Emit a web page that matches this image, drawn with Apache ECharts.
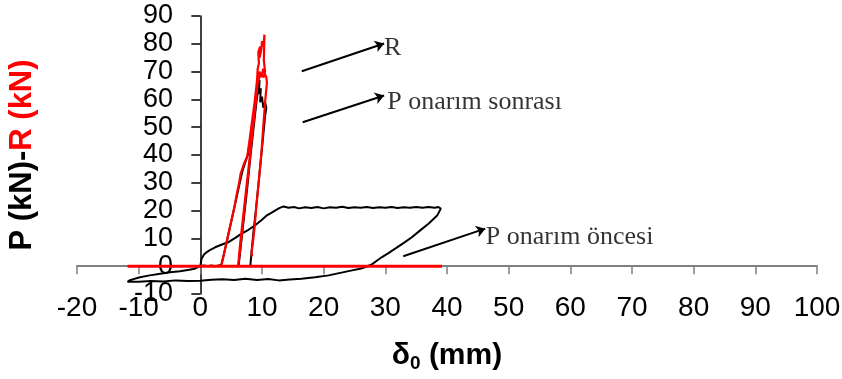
<!DOCTYPE html>
<html>
<head>
<meta charset="utf-8">
<script src="https://cdn.jsdelivr.net/npm/echarts@6/dist/echarts.min.js"></script>
<style>
  html, body { margin: 0; padding: 0; background: #fff; }
  #chart { width: 842px; height: 379px; }
</style>
</head>
<body>
<div id="chart"></div>
<script>
// x ticks / y ticks
var xMin = -20, xMax = 100, xStep = 10;
var yMin = -10, yMax = 90, yStep = 10;

// P onarim oncesi (before repair) - black loop
var pBefore = [
  [0, 0], [0.2, 2.7], [0.6, 4.2], [1.0, 5.0], [1.7, 6.0], [2.4, 6.8], [3.4, 7.7], [4.5, 8.6],
  [5.6, 10.1], [6.7, 11.7], [7.8, 13.1], [8.9, 14.7], [9.9, 16.5], [10.8, 18.3], [11.5, 19.2],
  [12.1, 20.0], [12.8, 20.9], [13.5, 21.5], [14.3, 21.0], [15.2, 21.3], [16.0, 20.8], [17.0, 21.2],
  [18.0, 20.9], [19.0, 21.3], [20.0, 20.8], [21.0, 21.2], [22.0, 21.0], [23.0, 21.4], [24.0, 20.9],
  [25.0, 21.2], [26.0, 21.0], [27.0, 21.3], [28.0, 20.9], [29.0, 21.2], [30.0, 21.0], [31.0, 21.3],
  [32.0, 20.9], [33.0, 21.2], [34.0, 21.0], [35.0, 21.3], [36.0, 21.0], [37.0, 21.3], [38.0, 21.0],
  [38.6, 21.3], [39.0, 20.7], [38.4, 18.2], [37.0, 15.3], [35.6, 12.8], [34.3, 10.4], [33.0, 8.4],
  [31.6, 6.3], [30.5, 4.7], [29.4, 3.2], [28.5, 1.8], [27.8, 0.6], [26.8, -0.3], [25.9, -0.9],
  [24.6, -1.5], [22.7, -2.4], [20.8, -3.3], [18.6, -4.0], [16.4, -4.5], [14.5, -4.8], [12.7, -5.1],
  [11.0, -4.6], [9.2, -5.0], [7.3, -4.5], [5.5, -5.0], [3.6, -4.7], [1.8, -4.9], [0, -5.2],
  [-2.0, -5.3], [-4.0, -5.1], [-6.0, -5.5], [-8.0, -5.3], [-10.0, -5.6], [-11.8, -5.6],
  [-11.4, -5.0], [-9.8, -4.0], [-8.2, -3.3], [-6.5, -2.7], [-4.9, -2.2], [-3.3, -1.8],
  [-1.8, -1.3], [-0.9, -0.9], [0, 0]
];

// P onarim sonrasi (after repair) - black
var pAfter = [
  [0, 0], [0.6, 0.3], [1.2, 0], [1.8, 0.3], [2.4, 0], [3.0, 0.3], [3.4, 0.5], [4.0, 6],
  [4.6, 12], [5.2, 18], [5.8, 24], [6.3, 29], [6.8, 34], [7.3, 37.5], [7.7, 40], [8.1, 46],
  [8.5, 52], [8.9, 58], [9.2, 62], [9.4, 64],
  [9.1, 59], [8.6, 49], [8.1, 39], [7.6, 29], [7.1, 19], [6.6, 9], [6.3, 3], [6.2, 0],
  [6.4, 4], [7.0, 16], [7.6, 28], [8.1, 39], [8.6, 49], [9.1, 59], [9.4, 64], [9.6, 67],
  [9.5, 62], [9.8, 64], [9.7, 59], [10.0, 61], [10.2, 57], [10.5, 59], [10.7, 57],
  [10.5, 54], [10.2, 47], [9.8, 38], [9.4, 29], [9.0, 20], [8.6, 12], [8.3, 5], [8.1, 0], [8.4, 0.2]
];

// R onarim oncesi - red, zero
var rBefore = [
  [-11.8, 0], [0, 0], [10, 0], [20, 0], [30, 0], [39.2, 0]
];

// R onarim sonrasi - red
var rAfter = [
  [3.3, 0], [3.5, 1], [4.0, 6], [4.6, 12], [5.1, 17], [5.5, 21], [5.7, 23.5], [6.0, 27],
  [6.3, 30], [6.5, 33], [6.8, 35], [7.1, 37], [7.4, 38.5], [7.6, 39.5], [7.9, 44], [8.2, 49],
  [8.5, 54], [8.8, 59], [9.0, 63], [9.2, 67], [9.3, 71], [9.5, 73], [9.4, 77], [9.7, 79],
  [9.6, 75], [9.9, 78], [10.0, 81], [10.2, 79], [10.4, 83.3], [10.3, 74], [10.5, 70], [10.3, 68],
  [9.9, 69], [9.6, 68], [9.3, 66],
  [8.9, 58], [8.4, 47], [7.9, 37], [7.4, 27], [6.9, 17], [6.5, 9], [6.2, 2], [6.1, 0],
  [6.3, 3], [6.8, 13], [7.4, 26], [8.0, 38], [8.6, 51], [9.1, 61], [9.3, 66], [9.6, 70],
  [9.9, 68], [10.2, 71], [10.5, 69], [10.7, 68], [10.8, 66],
  [10.5, 59], [10.2, 50], [9.9, 40.5], [9.5, 31], [9.1, 22], [8.8, 14], [8.5, 8], [8.3, 5],
  [8.5, 4.5], [8.4, 3.5]
];

// annotation arrows (start, tip) and texts
var arrowFrom = [[16.45, 70.1], [16.6, 51.8], [32.9, 3.6]];
var arrowTo = [[29.8, 80.1], [29.8, 61.4], [46.2, 13.5]];
var noteText = ['R', 'P onarım sonrası', 'P onarım öncesi'];
var notePos = [[29.8, 78.3], [30.3, 59.0], [46.3, 10.6]];

var chart = echarts.init(document.getElementById('chart'));

var arrows = [];
for (var i = 0; i < arrowFrom.length; i++) {
  arrows.push([{ coord: arrowFrom[i] }, { coord: arrowTo[i] }]);
}

function lineSeries(name, data, color, width) {
  return {
    name: name,
    type: 'line',
    data: data,
    showSymbol: false,
    symbol: 'none',
    smooth: false,
    clip: false,
    lineStyle: { color: color, width: width },
    silent: true
  };
}

var option = {
  animation: false,
  backgroundColor: '#fff',
  grid: { left: 77, right: 25, top: 16, bottom: 85, containLabel: false, outerBoundsMode: 'none' },
  xAxis: {
    type: 'value',
    min: xMin, max: xMax, interval: xStep,
    axisLine: { onZero: true, lineStyle: { color: '#808080', width: 2 } },
    axisTick: { show: true, length: 8, lineStyle: { color: '#808080', width: 1.5 } },
    axisLabel: { margin: 0, fontSize: 28, color: '#000', fontFamily: 'Liberation Sans', showMinLabel: true, showMaxLabel: true },
    splitLine: { show: false },
    name: '{a|δ}{s|0}{a| (mm)}',
    nameLocation: 'middle',
    nameGap: 45,
    nameTextStyle: {
      rich: {
        a: { fontSize: 30, fontWeight: 'bold', color: '#000', fontFamily: 'Liberation Sans' },
        s: { fontSize: 19, fontWeight: 'bold', color: '#000', fontFamily: 'Liberation Sans', padding: [15, 0, 0, 0] }
      }
    }
  },
  yAxis: {
    type: 'value',
    min: yMin, max: yMax, interval: yStep,
    axisLine: { onZero: true, lineStyle: { color: '#000', width: 1.5 } },
    axisTick: { show: true, length: 9, lineStyle: { color: '#000', width: 1.5 } },
    axisLabel: {
      margin: -96, fontSize: 27, lineHeight: 20, color: '#000', fontFamily: 'Liberation Sans',
      showMinLabel: true, showMaxLabel: true, hideOverlap: false
    },
    splitLine: { show: false },
    name: '{b|P (kN)-}{r|R (kN)}',
    nameLocation: 'middle',
    nameRotate: 90,
    nameGap: 39,
    nameTextStyle: {
      rich: {
        b: { fontSize: 31, fontWeight: 'bold', color: '#000', fontFamily: 'Liberation Sans' },
        r: { fontSize: 31, fontWeight: 'bold', color: '#ff0000', fontFamily: 'Liberation Sans' }
      }
    }
  },
  series: [
    lineSeries('P onarım öncesi', pBefore, '#000', 2),
    lineSeries('P onarım sonrası', pAfter, '#000', 2),
    lineSeries('R0', rBefore, '#ff0000', 3),
    lineSeries('R', rAfter, '#ff0000', 2.2),
    {
      name: 'notes',
      type: 'scatter',
      data: notePos,
      symbolSize: 0,
      silent: true,
      label: {
        show: true,
        position: 'right',
        distance: 0,
        formatter: function (p) { return noteText[p.dataIndex]; },
        fontFamily: 'Liberation Serif',
        fontSize: 26,
        color: '#000'
      },
      markLine: {
        silent: true,
        symbol: ['none', 'arrow'],
        symbolSize: 9,
        label: { show: false },
        lineStyle: { color: '#000', width: 2, type: 'solid' },
        data: arrows
      }
    }
  ]
};

chart.setOption(option);
</script>
</body>
</html>
